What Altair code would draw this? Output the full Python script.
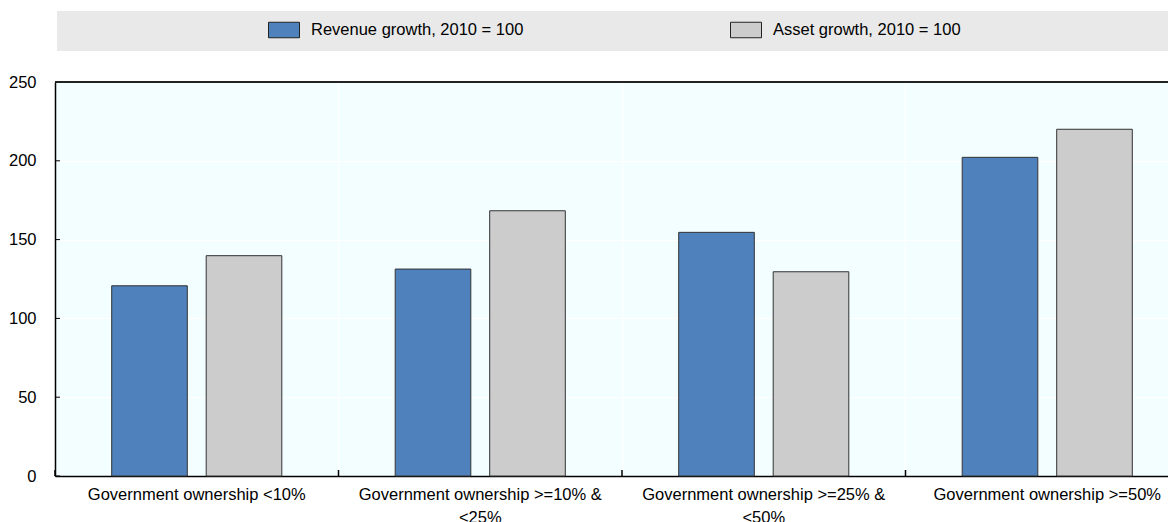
import altair as alt
import pandas as pd

categories = [
    "Government ownership <10%",
    "Government ownership >=10% & <25%",
    "Government ownership >=25% & <50%",
    "Government ownership >=50%",
]
series = ["Revenue growth, 2010 = 100", "Asset growth, 2010 = 100"]
revenue = [120.7, 131.3, 154.6, 202.2]
asset = [139.8, 168.3, 129.6, 220.0]
y_ticks = [0, 50, 100, 150, 200, 250]
colors = ["#4F81BD", "#CCCCCC"]

FONT = "Liberation Sans, Arial"
FS = 16.5
W, H = 1113, 394          # visible plot area (clipped at the page edge)
BAND_RANGE = [0, 1134]    # full category extent, last band runs off the edge

rows = []
for c, r, a in zip(categories, revenue, asset):
    rows.append({"cat": c, "series": series[0], "value": r})
    rows.append({"cat": c, "series": series[1], "value": a})
df = pd.DataFrame(rows)
ticks_df = pd.DataFrame({"v": y_ticks})
cats_df = pd.DataFrame({"cat": categories})
leg_df = pd.DataFrame({"series": series})

wrap = ("indexof(datum.label,' & ')>0 ? "
        "[slice(datum.label,0,indexof(datum.label,' & ')+2), "
        "slice(datum.label,indexof(datum.label,' & ')+3)] : datum.label")

xscale = alt.Scale(domain=categories, paddingInner=0, paddingOuter=0,
                   range=BAND_RANGE)
yscale = alt.Scale(domain=[0, 250], nice=False)
yaxis = alt.Axis(title=None, values=y_ticks, grid=True,
                 gridColor="white", gridWidth=1.5, ticks=False,
                 domainColor="black", domainWidth=1.5,
                 labelFontSize=FS, labelFont=FONT,
                 labelColor="#000000", labelPadding=19)

bars = alt.Chart(df).mark_bar(stroke="#333333", strokeWidth=1).encode(
    x=alt.X("cat:N", sort=categories, scale=xscale,
            axis=alt.Axis(title=None, labelAngle=0, labelExpr=wrap,
                          bandPosition=0, grid=True, gridColor="white",
                          gridWidth=1.5, ticks=False, domainColor="black",
                          domainWidth=1.5, labelFontSize=FS, labelFont=FONT,
                          labelColor="#000000", labelPadding=10,
                          labelLineHeight=23, labelBound=False,
                          labelLimit=400, labelOverlap=False)),
    xOffset=alt.XOffset("series:N", sort=series,
                        scale=alt.Scale(paddingInner=0.2, paddingOuter=0.6)),
    y=alt.Y("value:Q", scale=yscale, axis=yaxis),
    color=alt.Color("series:N", sort=series,
                    scale=alt.Scale(domain=series, range=colors), legend=None),
)

ytick_marks = alt.Chart(ticks_df).mark_rule(color="black", strokeWidth=1).encode(
    y=alt.Y("v:Q", scale=yscale, axis=yaxis),
    x=alt.value(0), x2=alt.value(5),
)
xtick_marks = alt.Chart(cats_df).mark_rule(color="black", strokeWidth=1.5).encode(
    x=alt.X("cat:N", sort=categories, scale=xscale, bandPosition=0, axis=None),
    y=alt.value(H - 6), y2=alt.value(H),
)
top_border = alt.Chart(cats_df).mark_rule(color="#222222", strokeWidth=1.5).encode(
    x=alt.value(0), x2=alt.value(W), y=alt.value(0),
)

# legend band drawn above the plot area
leg_x = alt.X("series:N", sort=series,
              scale=alt.Scale(type="point", domain=series, range=[229, 691],
                              padding=0),
              axis=None)
leg_bg = alt.Chart(leg_df).mark_rect(color="#E9E9E9").encode(
    x=alt.value(2), x2=alt.value(W), y=alt.value(-71), y2=alt.value(-31))
leg_sym = alt.Chart(leg_df).mark_point(
    shape="M-1,-0.5L1,-0.5L1,0.5L-1,0.5Z", size=961, filled=True,
    stroke="#222222", strokeWidth=1, opacity=1).encode(
    x=leg_x, y=alt.value(-52),
    fill=alt.Fill("series:N", sort=series,
                  scale=alt.Scale(domain=series, range=colors), legend=None),
)
leg_txt = alt.Chart(leg_df).mark_text(
    align="left", baseline="middle", dx=27, fontSize=FS, font=FONT,
    color="#000000").encode(x=leg_x, y=alt.value(-52), text="series:N")

chart = alt.layer(
    leg_bg, bars, ytick_marks, xtick_marks, top_border, leg_sym, leg_txt
).resolve_scale(x="independent", fill="independent").properties(
    width=W, height=H,
    autosize=alt.AutoSizeParams(type="none"),
    padding={"left": 47, "top": 74, "right": 0, "bottom": 46},
    view=alt.ViewBackground(fill="#F2FEFF", stroke=None),
).configure_view(stroke=None)

chart.save("out.html", embed_options={"renderer": "svg", "actions": False})
